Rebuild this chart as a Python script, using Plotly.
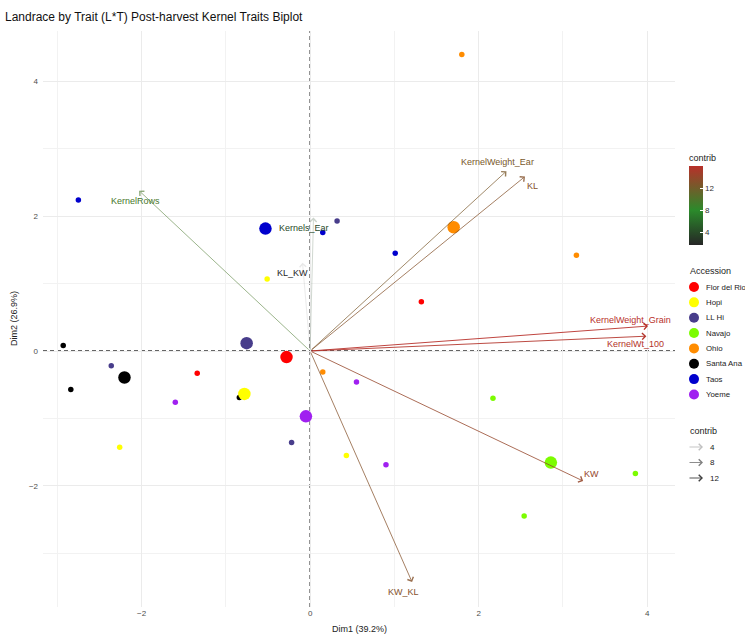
import pandas as pd
import plotly.graph_objects as go
from plotly.colors import sample_colorscale

# ---------------- data ----------------
accessions = ["Flor del Rio", "Hopi", "LL Hi", "Navajo", "Ohio", "Santa Ana", "Taos", "Yoeme"]
accession_colors = ["#FF0000", "#FFFF00", "#483D8B", "#7CFC00", "#FF8C00", "#000000", "#0000CD", "#A020F0"]

ind_accession = ["Flor del Rio"] * 3 + ["Hopi"] * 3 + ["LL Hi"] * 3 + ["Navajo"] * 3 + \
                ["Ohio"] * 3 + ["Santa Ana"] * 3 + ["Taos"] * 3 + ["Yoeme"] * 3
ind_dim1 = [1.32, -1.34, -0.82,
            -0.51, -2.26, 0.43,
            0.32, -2.36, -0.22,
            2.17, 3.86, 2.54,
            1.80, 3.16, 0.15,
            -2.93, -2.84, -0.84,
            -2.75, 0.15, 1.01,
            -1.60, 0.55, 0.90]
ind_dim2 = [0.73, -0.33, -0.67,
            1.07, -1.43, -1.55,
            1.93, -0.22, -1.36,
            -0.70, -1.82, -2.45,
            4.40, 1.42, -0.31,
            0.08, -0.57, -0.69,
            2.24, 1.76, 1.45,
            -0.76, -0.46, -1.69]

variables = ["KernelRows", "Kernels_Ear", "KL_KW", "KernelWeight_Ear", "KL",
             "KernelWeight_Grain", "KernelWt_100", "KW", "KW_KL"]
var_dim1 = [-2.03, 0.04, -0.09, 2.33, 2.55, 4.01, 3.99, 3.24, 1.21]
var_dim2 = [2.38, 1.98, 1.31, 2.67, 2.59, 0.37, 0.22, -1.93, -3.43]
var_contrib = [9.7, 3.9, 1.7, 12.5, 13.1, 16.1, 15.8, 14.1, 13.1]

x_ticks = [-2, 0, 2, 4]
y_ticks = [-2, 0, 2, 4]
contrib_ticks = [4, 8, 12]

# ---------------- style ----------------
# label offsets from arrow tips, in pixels (right, down)
label_offsets = {
    "KernelRows": (-4, 10), "Kernels_Ear": (-10, 10), "KL_KW": (-10, 10),
    "KernelWeight_Ear": (-9, -9), "KL": (7, 9), "KernelWeight_Grain": (-18, -6),
    "KernelWt_100": (-11, 8), "KW": (8, -7), "KW_KL": (-9, 10),
}
contrib_scale = [[0.0, "#262626"], [0.44, "#2b8a2b"], [1.0, "#b8302a"]]
cmin, cmax = min(var_contrib), max(var_contrib)

W, H = 745, 634
L, R, T, B = 43, 70, 31, 27
PW, PH = W - L - R, H - T - B


def px_x(px):
    return (px - L) / PW


def px_y(py):
    return (H - B - py) / PH


def contrib_color(c):
    return sample_colorscale(contrib_scale, [(c - cmin) / (cmax - cmin)])[0]


def contrib_alpha(c):
    return 0.1 + 0.9 * (c - cmin) / (cmax - cmin)


def rgba(col, a):
    col = col.strip()
    if col.startswith("rgb"):
        vals = col[col.index("(") + 1:col.index(")")].split(",")
        r, g, b = [float(v) for v in vals[:3]]
    else:
        r, g, b = int(col[1:3], 16), int(col[3:5], 16), int(col[5:7], 16)
    return f"rgba({int(round(r))},{int(round(g))},{int(round(b))},{a:.3f})"


ind = pd.DataFrame({"accession": ind_accession, "dim1": ind_dim1, "dim2": ind_dim2})
means = ind.groupby("accession", sort=False)[["dim1", "dim2"]].mean().reset_index()

fig = go.Figure()

# individuals and group mean points
for acc, col in zip(accessions, accession_colors):
    sub = ind[ind.accession == acc]
    fig.add_trace(go.Scatter(x=sub.dim1, y=sub.dim2, mode="markers",
                             marker=dict(color=col, size=5.5, line=dict(width=0)),
                             showlegend=False, hoverinfo="skip"))
for acc, col in zip(accessions, accession_colors):
    m = means[means.accession == acc]
    fig.add_trace(go.Scatter(x=m.dim1, y=m.dim2, mode="markers",
                             marker=dict(color=col, size=12.5, line=dict(width=0)),
                             showlegend=False, hoverinfo="skip"))

# invisible carrier for the contrib colour bar
fig.add_trace(go.Scatter(
    x=var_dim1, y=var_dim2, mode="markers", showlegend=False, hoverinfo="skip",
    marker=dict(size=0.1, opacity=0, color=var_contrib, colorscale=contrib_scale,
                cmin=cmin, cmax=cmax, showscale=True,
                colorbar=dict(
                    title=dict(text="contrib", side="top", font=dict(size=9, color="#222")),
                    thickness=14, thicknessmode="pixels", len=94, lenmode="pixels",
                    x=px_x(689), xanchor="left", y=px_y(245), yanchor="bottom",
                    xpad=0, ypad=0, outlinewidth=0,
                    tickvals=contrib_ticks, ticks="inside", ticklen=3, tickcolor="white",
                    tickfont=dict(size=8, color="#333")))))

annotations = []
shapes = []

# reference dashed axes
shapes.append(dict(type="line", xref="x", yref="paper", x0=0, x1=0, y0=0, y1=1,
                   line=dict(color="#333333", width=1.3, dash="4px,3px"), layer="below"))
shapes.append(dict(type="line", xref="paper", yref="y", x0=0, x1=1, y0=0, y1=0,
                   line=dict(color="#333333", width=1.3, dash="4px,3px"), layer="below"))

# variable arrows and labels
for v, x, y, c in zip(variables, var_dim1, var_dim2, var_contrib):
    col = contrib_color(c)
    annotations.append(dict(x=x, y=y, ax=0, ay=0, xref="x", yref="y", axref="x", ayref="y",
                            text="", showarrow=True, arrowhead=4, arrowsize=1.4,
                            arrowwidth=0.9, arrowcolor=rgba(col, contrib_alpha(c))))
    dx, dy = label_offsets[v]
    annotations.append(dict(x=x, y=y, xref="x", yref="y", text=v, showarrow=False,
                            xshift=dx, yshift=-dy, xanchor="center", yanchor="middle",
                            font=dict(size=9, color=col)))

# axis titles
annotations.append(dict(x=0.5, y=0, xref="paper", yref="paper", text="Dim1 (39.2%)",
                        showarrow=False, yanchor="top", yshift=-15,
                        font=dict(size=9, color="#222")))
annotations.append(dict(x=0, y=0.5, xref="paper", yref="paper", text="Dim2 (26.9%)",
                        showarrow=False, textangle=-90, xanchor="right", xshift=-22,
                        font=dict(size=9, color="#222")))

# Accession legend
annotations.append(dict(x=px_x(688), y=px_y(271), xref="paper", yref="paper", text="Accession",
                        showarrow=False, xanchor="left", yanchor="middle",
                        font=dict(size=9, color="#222")))
for i, (acc, col) in enumerate(zip(accessions, accession_colors)):
    yy = 287 + 15.35 * i
    shapes.append(dict(type="circle", xref="paper", yref="paper", xsizemode="pixel",
                       ysizemode="pixel", xanchor=px_x(694), yanchor=px_y(yy),
                       x0=-5, x1=5, y0=-5, y1=5, fillcolor=col, line=dict(width=0)))
    annotations.append(dict(x=px_x(704), y=px_y(yy), xref="paper", yref="paper", text=acc,
                            showarrow=False, xanchor="left", yanchor="middle",
                            font=dict(size=7.8, color="#222")))

# contrib (alpha) legend
annotations.append(dict(x=px_x(688), y=px_y(431), xref="paper", yref="paper", text="contrib",
                        showarrow=False, xanchor="left", yanchor="middle",
                        font=dict(size=9, color="#222")))
for i, c in enumerate(contrib_ticks):
    yy = 447 + 15.5 * i
    annotations.append(dict(x=px_x(703), y=px_y(yy), xref="paper", yref="paper", text="",
                            ax=-15, ay=0, showarrow=True, arrowhead=4, arrowsize=1.4,
                            arrowwidth=0.9, arrowcolor=rgba("#000000", contrib_alpha(c))))
    annotations.append(dict(x=px_x(708), y=px_y(yy), xref="paper", yref="paper", text=str(c),
                            showarrow=False, xanchor="left", yanchor="middle",
                            font=dict(size=8, color="#222")))

fig.update_layout(
    width=W, height=H, margin=dict(l=L, r=R, t=T, b=B, autoexpand=False),
    paper_bgcolor="white", plot_bgcolor="white",
    font=dict(family="Liberation Sans, Arial, sans-serif"),
    title=dict(text="Landrace by Trait (L*T) Post-harvest Kernel Traits Biplot",
               x=5 / W, xref="container", xanchor="left",
               y=1 - 17 / H, yref="container", yanchor="middle",
               font=dict(size=12, color="#111")),
    xaxis=dict(range=[-3.17, 4.33], tickvals=x_ticks, showline=False, zeroline=False,
               gridcolor="#ebebeb", gridwidth=1, ticks="",
               tickfont=dict(size=8, color="#4d4d4d"),
               minor=dict(tickvals=[-3, -1, 1, 3], showgrid=True, gridcolor="#f2f2f2", gridwidth=0.7)),
    yaxis=dict(range=[-3.80, 4.75], tickvals=y_ticks, showline=False, zeroline=False,
               gridcolor="#ebebeb", gridwidth=1, ticks="", ticklabelstandoff=4,
               tickfont=dict(size=8, color="#4d4d4d"),
               minor=dict(tickvals=[-3, -1, 1, 3], showgrid=True, gridcolor="#f2f2f2", gridwidth=0.7)),
    annotations=annotations, shapes=shapes, showlegend=False,
)

fig.write_html("out.html")
